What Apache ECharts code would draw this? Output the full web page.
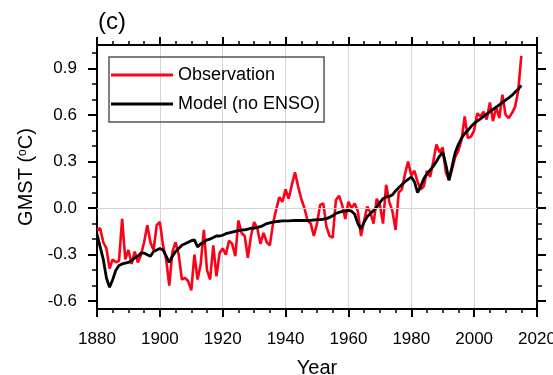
<!DOCTYPE html>
<html>
<head>
<meta charset="utf-8">
<script src="https://cdn.jsdelivr.net/npm/echarts@6/dist/echarts.min.js"></script>
<style>
html,body{margin:0;padding:0;background:#fff;}
#c{width:553px;height:375px;}
</style>
</head>
<body>
<div id="c"></div>
<script>
const startYear = 1880;
const observation = [
-0.14,-0.13,-0.22,-0.26,-0.39,-0.33,-0.35,-0.34,-0.07,-0.33,
-0.27,-0.36,-0.28,-0.35,-0.30,-0.22,-0.11,-0.22,-0.27,-0.11,
-0.09,-0.24,-0.33,-0.50,-0.28,-0.22,-0.30,-0.46,-0.45,-0.47,
-0.53,-0.30,-0.46,-0.36,-0.14,-0.40,-0.46,-0.24,-0.44,-0.29,
-0.26,-0.30,-0.21,-0.23,-0.31,-0.08,-0.16,-0.18,-0.32,-0.18,
-0.09,-0.13,-0.23,-0.16,-0.22,-0.24,-0.10,-0.01,0.07,0.04,
0.12,0.06,0.15,0.23,0.14,0.06,0.00,-0.08,-0.10,-0.18,
-0.10,0.02,0.03,-0.12,-0.18,-0.19,0.05,0.08,0.02,-0.07,
0.04,0.00,0.03,-0.02,-0.18,-0.08,0.01,-0.03,-0.10,0.06,
0.02,-0.10,0.15,0.04,-0.02,-0.14,0.10,0.12,0.22,0.30,
0.21,0.24,0.17,0.12,0.14,0.24,0.20,0.30,0.41,0.36,
0.39,0.23,0.18,0.25,0.33,0.37,0.44,0.59,0.45,0.46,
0.50,0.61,0.59,0.62,0.57,0.68,0.56,0.65,0.58,0.73,
0.60,0.58,0.61,0.65,0.75,0.98
];
const modelNoEnso = [
-0.17,-0.25,-0.33,-0.45,-0.51,-0.46,-0.40,-0.37,-0.36,-0.355,
-0.35,-0.34,-0.32,-0.31,-0.29,-0.29,-0.30,-0.31,-0.28,-0.27,
-0.26,-0.27,-0.31,-0.35,-0.31,-0.28,-0.26,-0.24,-0.23,-0.22,
-0.21,-0.205,-0.25,-0.23,-0.22,-0.205,-0.20,-0.19,-0.18,-0.18,
-0.175,-0.165,-0.16,-0.155,-0.15,-0.145,-0.14,-0.14,-0.135,-0.13,
-0.13,-0.125,-0.12,-0.11,-0.10,-0.095,-0.09,-0.087,-0.085,-0.083,
-0.082,-0.082,-0.081,-0.08,-0.08,-0.08,-0.08,-0.08,-0.079,-0.077,
-0.075,-0.074,-0.072,-0.068,-0.06,-0.05,-0.035,-0.028,-0.022,-0.018,
-0.015,-0.02,-0.04,-0.10,-0.135,-0.09,-0.055,-0.035,-0.015,0.005,
0.035,0.06,0.072,0.075,0.085,0.11,0.13,0.15,0.17,0.185,
0.20,0.17,0.10,0.14,0.19,0.22,0.245,0.27,0.30,0.335,
0.36,0.28,0.18,0.27,0.36,0.41,0.45,0.48,0.50,0.525,
0.545,0.56,0.575,0.59,0.605,0.62,0.635,0.65,0.665,0.68,
0.695,0.71,0.725,0.745,0.765,0.79
];
const xTicks = {min: 1880, max: 2020, step: 20};
const yMajorTicks = [-0.6,-0.3,0,0.3,0.6,0.9];
const yMinorTicks = [-0.5,-0.4,-0.2,-0.1,0.1,0.2,0.4,0.5,0.7,0.8,1.0];
const yRange = {min: -0.65, max: 1.05};
const seriesNames = ['Observation','Model (no ENSO)'];

const years = observation.map((_, i) => startYear + i);
const obsData = years.map((y, i) => [y, observation[i]]);
const modData = years.map((y, i) => [y, modelNoEnso[i]]);

const FONT = "'Liberation Sans', Arial, Helvetica, sans-serif";
const chart = echarts.init(document.getElementById('c'), null, {renderer: 'canvas'});

function xAxisDef(pos, labels) {
  return {
    type: 'value', position: pos, min: xTicks.min, max: xTicks.max, interval: xTicks.step,
    axisLine: {show: true, onZero: false, lineStyle: {color: '#000', width: 2}},
    axisTick: {show: true, inside: false, length: 8, lineStyle: {color: '#000', width: 2}},
    minorTick: {show: true, splitNumber: 4, length: 4, lineStyle: {color: '#000', width: 1.5}},
    axisLabel: {show: labels, margin: 22, fontSize: 17, color: '#000', fontFamily: FONT,
      formatter: v => String(v)},
    splitLine: {show: labels, lineStyle: {color: '#d4d4d4', width: 1}},
    name: labels ? 'Year' : '', nameLocation: 'middle', nameGap: 49,
    nameTextStyle: {fontSize: 20, color: '#000', fontFamily: FONT}
  };
}
function yAxisDef(pos, ticks, len, labels, line) {
  return {
    type: 'value', position: pos, min: yRange.min, max: yRange.max,
    axisLine: {show: line, onZero: false, lineStyle: {color: '#000', width: 2}},
    axisTick: {show: true, inside: false, length: len, customValues: ticks, lineStyle: {color: '#000', width: len > 6 ? 2 : 1.5}},
    axisLabel: {show: labels, customValues: ticks, margin: 20, fontSize: 17, color: '#000', fontFamily: FONT,
      formatter: v => v.toFixed(1)},
    splitLine: {show: false},
    name: labels ? 'GMST ({sup|o}C)' : '', nameLocation: 'middle', nameGap: 60,
    nameTextStyle: {fontSize: 20, color: '#000', fontFamily: FONT,
      rich: {sup: {fontSize: 12, verticalAlign: 'top', color: '#000', fontFamily: FONT}}}
  };
}

chart.setOption({
  animation: false,
  backgroundColor: '#fff',
  title: {text: '(c)', left: 93, top: 5, textStyle: {fontSize: 24, fontWeight: 'normal', color: '#000', fontFamily: FONT}},
  grid: {left: 97, right: 16, top: 45, bottom: 66, containLabel: false, outerBoundsMode: 'none'},
  legend: {
    data: seriesNames, orient: 'vertical', left: 109, top: 57,
    icon: 'rect', itemWidth: 62, itemHeight: 3, itemGap: 11,
    padding: [9, 4, 9, 2], borderColor: '#555', borderWidth: 1.5,
    textStyle: {fontSize: 18, color: '#000', fontFamily: FONT}
  },
  xAxis: [xAxisDef('bottom', true), xAxisDef('top', false)],
  yAxis: [
    yAxisDef('left', yMajorTicks, 9, true, true),
    yAxisDef('left', yMinorTicks, 5, false, false),
    yAxisDef('right', yMajorTicks, 9, false, true),
    yAxisDef('right', yMinorTicks, 5, false, false)
  ],
  series: [
    {type: 'line', data: [], z: 1, silent: true,
     markLine: {silent: true, symbol: 'none', label: {show: false},
       lineStyle: {color: '#d4d4d4', width: 1, type: 'solid'}, data: [{yAxis: 0}]}},
    {name: seriesNames[0], type: 'line', data: obsData, showSymbol: false, color: '#ff0019',
     lineStyle: {color: '#ff0019', width: 2.6}, z: 3},
    {name: seriesNames[1], type: 'line', data: modData, showSymbol: false, color: '#000',
     lineStyle: {color: '#000', width: 2.8}, z: 4}
  ]
});
</script>
</body>
</html>
